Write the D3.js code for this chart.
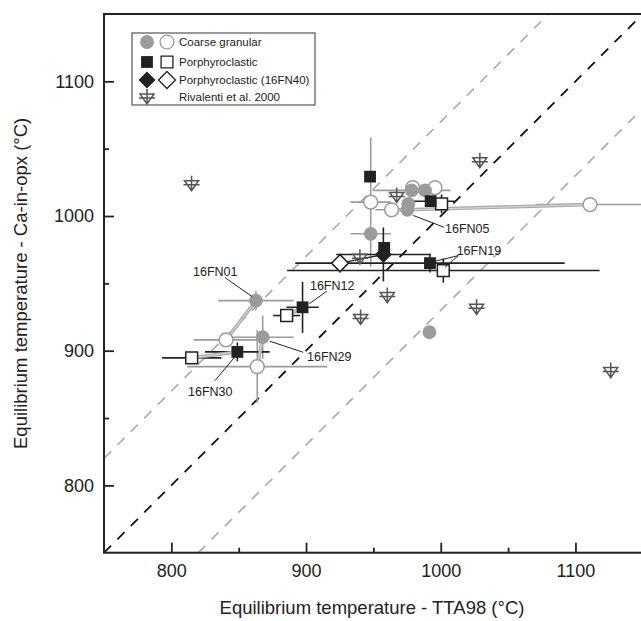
<!DOCTYPE html>
<html>
<head>
<meta charset="utf-8">
<script src="https://cdn.jsdelivr.net/npm/d3@7"></script>
<style>
  body { margin: 0; background: #fff; }
  svg { font-family: "Liberation Sans", Arial, sans-serif; }
</style>
</head>
<body>
<svg id="chart" width="641" height="621"></svg>
<script>
// [x, y, xerr, yerr]
const coarseFilled = [
  [862.8, 937.2, 28, 7],
  [867.8, 910.0, 23, 16],
  [948.0, 986.8, 15, 0],
  [978.4, 1019.0, 29, 5],
  [988.3, 1019.0, 10, 0],
  [975.9, 1009.0, 0, 0],
  [975.2, 1004.6, 0, 0],
  [991.6, 913.7, 0, 0]
];
const coarseOpen = [
  [840.6, 908.0, 24, 5],
  [863.8, 888.2, 52, 27],
  [948.0, 1010.3, 15, 48],
  [979.1, 1021.0, 0, 0],
  [995.7, 1021.0, 0, 0],
  [963.5, 1004.6, 12, 0],
  [1110.8, 1008.5, 40, 4]
];
const porphFilled = [
  [849.0, 899.1, 24, 7],
  [897.4, 932.2, 12, 19],
  [947.5, 1029.3, 0, 0],
  [992.5, 1011.0, 18, 0],
  [958.0, 976.4, 0, 0],
  [992.0, 965.0, 100, 7]
];
const porphOpen = [
  [815.1, 894.7, 22, 0],
  [885.6, 926.1, 10, 4],
  [1000.6, 1009.0, 0, 7],
  [1001.9, 959.5, 116, 9]
];
const fn40Filled = [[957.4, 971.4, 35, 20]];
const fn40Open = [[925.2, 965.0, 0, 7]];
const rivalenti = [
  [815.0, 1024.0], [1029.0, 1041.0], [967.3, 1015.2], [940.0, 969.4],
  [960.3, 940.9], [940.5, 924.7], [1026.6, 932.2], [1126.2, 885.2]
];
// tie lines between core/rim pairs [x1, y1, x2, y2]
const tieGray = [
  [862.8, 937.2, 840.6, 908.0],
  [867.8, 910.0, 863.8, 888.2],
  [849.0, 899.1, 815.1, 894.7],
  [897.4, 932.2, 885.6, 926.1],
  [975.2, 1004.6, 1110.8, 1008.5],
  [963.5, 1004.6, 975.2, 1004.6]
];
const tieBlack = [[957.4, 971.4, 925.2, 965.0]];
// sample labels: [text, textX, textY, [leader x1, y1, x2, y2], ...]
const labels = [
  ['16FN01', 816.1, 955.1, [[839.8, 954.3, 859.9, 940.2]]],
  ['16FN12', 902.9, 944.7, [[915.3, 944.1, 902.4, 934.8]]],
  ['16FN29', 900.7, 892.6, [[897.9, 898.8, 873.2, 907.0]]],
  ['16FN30', 812.4, 866.6, [[832.4, 877.8, 847.3, 895.6]]],
  ['16FN05', 1003.2, 987.7, [[1002.4, 991.7, 979.6, 1000.4]]],
  ['16FN19', 1011.8, 971.4, [[1013.0, 970.6, 995.7, 966.4], [1013.0, 970.6, 1003.2, 962.0]]]
];
const majorTicks = [800, 900, 1000, 1100];
const minorTicks = [850, 950, 1050];
const offsetLines = [0, 70, -70];
const legendItems = ['Coarse granular', 'Porphyroclastic', 'Porphyroclastic (16FN40)', 'Rivalenti et al. 2000'];

const svg = d3.select('#chart');
const x = d3.scaleLinear().domain([750, 1150]).range([104, 642.8]);
const y = d3.scaleLinear().domain([750, 1150]).range([552.7, 14]);

const GRAY = '#9b9b9b';
const DARK = '#222';

svg.append('clipPath').attr('id', 'clip')
  .append('rect')
  .attr('x', x(750)).attr('y', y(1150))
  .attr('width', x(1150) - x(750)).attr('height', y(750) - y(1150));

const plot = svg.append('g').attr('clip-path', 'url(#clip)');

// 1:1 line and +/-70 lines
plot.selectAll('.ref')
  .data(offsetLines)
  .enter()
  .append('line')
  .attr('x1', x(750)).attr('y1', d => y(750 + d))
  .attr('x2', x(1150)).attr('y2', d => y(1150 + d))
  .attr('stroke', d => d === 0 ? '#111' : '#aaa')
  .attr('stroke-width', d => d === 0 ? 1.8 : 1.6)
  .attr('stroke-dasharray', '10,9');

// error bars
const errGroups = [
  [coarseFilled, GRAY], [coarseOpen, GRAY],
  [porphFilled, DARK], [porphOpen, DARK],
  [fn40Filled, DARK], [fn40Open, DARK]
];
errGroups.forEach(([data, color]) => {
  const g = plot.append('g').attr('stroke', color).attr('stroke-width', 1.6);
  g.selectAll('.ex').data(data.filter(d => d[2] > 0)).enter().append('line')
    .attr('x1', d => x(d[0] - d[2])).attr('x2', d => x(d[0] + d[2]))
    .attr('y1', d => y(d[1])).attr('y2', d => y(d[1]));
  g.selectAll('.ey').data(data.filter(d => d[3] > 0)).enter().append('line')
    .attr('x1', d => x(d[0])).attr('x2', d => x(d[0]))
    .attr('y1', d => y(d[1] - d[3])).attr('y2', d => y(d[1] + d[3]));
});

// tie lines (light double stroke)
plot.selectAll('.tieg').data(tieGray).enter().append('line')
  .attr('x1', d => x(d[0])).attr('y1', d => y(d[1]))
  .attr('x2', d => x(d[2])).attr('y2', d => y(d[3]))
  .attr('stroke', '#a8a8a8').attr('stroke-width', 3.5);
plot.selectAll('.tiegc').data(tieGray).enter().append('line')
  .attr('x1', d => x(d[0])).attr('y1', d => y(d[1]))
  .attr('x2', d => x(d[2])).attr('y2', d => y(d[3]))
  .attr('stroke', '#d4d4d4').attr('stroke-width', 1.2);
plot.selectAll('.tieb').data(tieBlack).enter().append('line')
  .attr('x1', d => x(d[0])).attr('y1', d => y(d[1]))
  .attr('x2', d => x(d[2])).attr('y2', d => y(d[3]))
  .attr('stroke', DARK).attr('stroke-width', 1.4);

const circleSym = d3.symbol(d3.symbolCircle, 150);
const squareSym = d3.symbol(d3.symbolSquare, 140);
const diamondPath = 'M0,-8.5L8.5,0L0,8.5L-8.5,0Z';
const rivalentiPath = 'M-7,-3L7,-3L0,7Z M-8,1L8,1 M0,-8L0,7';

function drawSymbols(data, sym, fill, stroke) {
  plot.append('g').selectAll('path').data(data).enter().append('path')
    .attr('d', sym)
    .attr('transform', d => `translate(${x(d[0])},${y(d[1])})`)
    .attr('fill', fill).attr('stroke', stroke).attr('stroke-width', 1.5);
}

drawSymbols(rivalenti, rivalentiPath, 'none', '#555');
drawSymbols(coarseOpen, circleSym, '#fff', GRAY);
drawSymbols(coarseFilled, circleSym, GRAY, 'none');
drawSymbols(porphOpen, squareSym, '#fff', DARK);
drawSymbols(fn40Open, diamondPath, '#fff', DARK);
drawSymbols(fn40Filled, diamondPath, DARK, 'none');
drawSymbols(porphFilled, squareSym, DARK, 'none');

// sample labels with leader lines
labels.forEach(([text, tx, ty, leaders]) => {
  plot.selectAll(null).data(leaders).enter().append('line')
    .attr('x1', d => x(d[0])).attr('y1', d => y(d[1]))
    .attr('x2', d => x(d[2])).attr('y2', d => y(d[3]))
    .attr('stroke', DARK).attr('stroke-width', 1);
  plot.append('text')
    .attr('x', x(tx)).attr('y', y(ty))
    .attr('font-size', 12.5).attr('fill', DARK)
    .text(text);
});

// axes
svg.append('g')
  .attr('transform', `translate(0,${y(750)})`)
  .call(d3.axisBottom(x).tickValues(majorTicks).tickSize(-10).tickPadding(12).tickFormat(d3.format('d')));
svg.append('g')
  .attr('transform', `translate(0,${y(750)})`)
  .call(d3.axisBottom(x).tickValues(minorTicks).tickSize(-5).tickFormat(''));
svg.append('g')
  .attr('transform', `translate(${x(750)},0)`)
  .call(d3.axisLeft(y).tickValues(majorTicks).tickSize(-10).tickPadding(10).tickFormat(d3.format('d')));
svg.append('g')
  .attr('transform', `translate(${x(750)},0)`)
  .call(d3.axisLeft(y).tickValues(minorTicks).tickSize(-5).tickFormat(''));

svg.selectAll('.domain').remove();
svg.selectAll('.tick line').attr('stroke', DARK).attr('stroke-width', 1.8);
svg.selectAll('.tick text').attr('font-size', 18).attr('fill', DARK)
  .attr('font-family', '"Liberation Sans", Arial, sans-serif');

// frame
svg.append('rect')
  .attr('x', x(750)).attr('y', y(1150))
  .attr('width', x(1150) - x(750)).attr('height', y(750) - y(1150))
  .attr('fill', 'none').attr('stroke', DARK).attr('stroke-width', 2);

// axis titles
svg.append('text')
  .attr('x', 372).attr('y', 614)
  .attr('text-anchor', 'middle').attr('font-size', 18.5).attr('fill', DARK)
  .text('Equilibrium temperature - TTA98 (°C)');
svg.append('text')
  .attr('transform', `translate(27,${(y(750) + y(1150)) / 2}) rotate(-90)`)
  .attr('text-anchor', 'middle').attr('font-size', 18.5).attr('fill', DARK)
  .text('Equilibrium temperature - Ca-in-opx (°C)');

// legend
const legend = svg.append('g');
legend.append('rect')
  .attr('x', 132).attr('y', 33).attr('width', 183).attr('height', 72)
  .attr('fill', '#fff').attr('stroke', '#555').attr('stroke-width', 1.2);
const rowY = [42, 62, 80, 97];
const legendSyms = [
  [circleSym, GRAY, 'none', circleSym, '#fff', GRAY],
  [squareSym, DARK, 'none', squareSym, '#fff', DARK],
  [diamondPath, DARK, 'none', diamondPath, '#fff', DARK],
  [rivalentiPath, 'none', '#555', null]
];
legendItems.forEach((label, i) => {
  const s = legendSyms[i];
  legend.append('path').attr('d', s[0])
    .attr('transform', `translate(147,${rowY[i]})`)
    .attr('fill', s[1]).attr('stroke', s[2]).attr('stroke-width', 1.5);
  if (s[3]) {
    legend.append('path').attr('d', s[3])
      .attr('transform', `translate(167,${rowY[i]})`)
      .attr('fill', s[4]).attr('stroke', s[5]).attr('stroke-width', 1.3);
  }
  legend.append('text')
    .attr('x', 179).attr('y', rowY[i]).attr('dy', '0.35em')
    .attr('font-size', 11.5).attr('fill', DARK)
    .text(label);
});
</script>
</body>
</html>
